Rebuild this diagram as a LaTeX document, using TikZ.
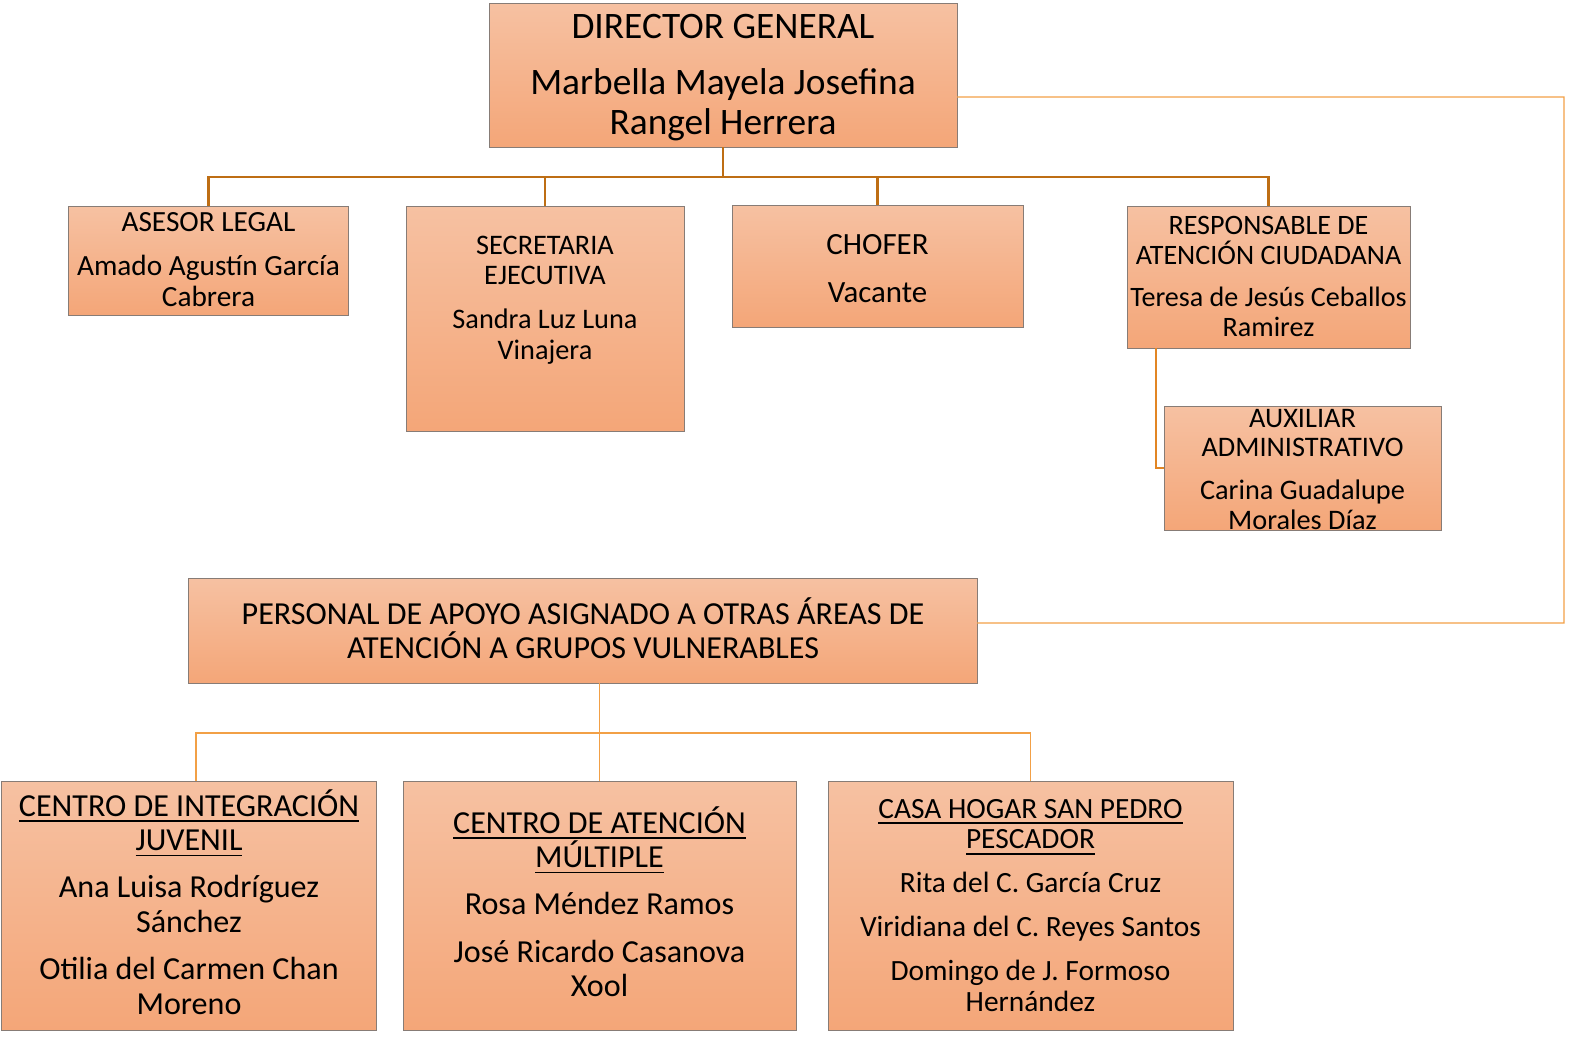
\documentclass[tikz,border=0pt]{standalone}
\usepackage{fontspec}
\setmainfont{Carlito}
\newcommand\myul[1]{\leavevmode\setbox0\hbox{#1}\rlap{\rule[-6pt]{\wd0}{1.8pt}}\box0}
\definecolor{boxtop}{RGB}{246,193,162}
\definecolor{boxbot}{RGB}{244,166,120}
\definecolor{boxline}{RGB}{135,124,118}
\definecolor{lineA}{RGB}{190,110,20}
\definecolor{lineB}{RGB}{226,134,36}
\definecolor{lineC}{RGB}{242,160,70}
\tikzset{
  orgbox/.style 2 args={draw=boxline, line width=1bp, top color=boxtop, bottom color=boxbot,
    shading angle=0, inner sep=0pt, outer sep=0pt, minimum width=#1, minimum height=#2},
  txt/.style={anchor=base, align=center, inner sep=0pt, outer sep=0pt, text width=#1,
    execute at begin node={\spaceskip=\fontdimen2\font\relax\xspaceskip=\fontdimen2\font\relax}},
  fs/.style 2 args={font=\fontsize{#1}{#2}\selectfont},
  linkA/.style={draw=lineA, line width=2.2bp},
  linkB/.style={draw=lineB, line width=2bp},
  linkC/.style={draw=lineC, line width=1.2bp},
}
\begin{document}
\begin{tikzpicture}[x=1bp,y=-1bp]
\useasboundingbox (0,0) rectangle (1576,1038);

% boxes
\node[orgbox={468bp}{144bp}] (dg) at (723,75) {};
\node[orgbox={279bp}{109bp}] (asesor) at (208.5,260.5) {};
\node[orgbox={278bp}{225bp}] (secre) at (545,318.5) {};
\node[orgbox={291bp}{122bp}] (chofer) at (877.5,266) {};
\node[orgbox={283bp}{142bp}] (resp) at (1268.5,277) {};
\node[orgbox={277bp}{124bp}] (aux) at (1302.5,468) {};
\node[orgbox={788bp}{105bp}] (pers) at (583,630.5) {};
\node[orgbox={374bp}{249bp}] (cij) at (189,905.5) {};
\node[orgbox={393bp}{249bp}] (cam) at (599.5,905.5) {};
\node[orgbox={405bp}{249bp}] (casa) at (1030.5,905.5) {};

% texts
\node[txt=460bp, fs={37.5}{40}] (dgT) at (723,38)
  {DIRECTOR GENERAL\\[17pt]Marbella Mayela Josefina\\Rangel Herrera};
\node[txt=275bp, fs={29.4}{31}] (asesorT) at (208.5,231)
  {ASESOR LEGAL\\[14pt]Amado Agustín García\\Cabrera};
\node[txt=274bp, fs={28.4}{31}] (secreT) at (545,254)
  {SECRETARIA\\EJECUTIVA\\[13pt]Sandra Luz Luna\\Vinajera};
\node[txt=287bp, fs={31}{33}] (choferT) at (877.5,254)
  {CHOFER\\[15.5pt]Vacante};
\node[txt=281bp, fs={28.2}{30.5}] (respT) at (1268.5,234)
  {RESPONSABLE DE\\ATENCIÓN CIUDADANA\\[11.5pt]Teresa de Jesús Ceballos\\Ramirez};
\node[txt=273bp, fs={28.4}{30}] (auxT) at (1302.5,427)
  {AUXILIAR\\ADMINISTRATIVO\\[13pt]Carina Guadalupe\\Morales Díaz};
\node[txt=780bp, fs={32.2}{35}] (persT) at (583,624)
  {PERSONAL DE APOYO ASIGNADO A OTRAS ÁREAS DE\\ATENCIÓN A GRUPOS VULNERABLES};
\node[txt=370bp, fs={32.2}{34.5}] (cijT) at (189,816)
  {\myul{CENTRO DE INTEGRACIÓN}\\\myul{JUVENIL}\\[13pt]Ana Luisa Rodríguez\\Sánchez\\[13.5pt]Otilia del Carmen Chan\\Moreno};
\node[txt=389bp, fs={32.2}{34.5}] (camT) at (599.5,833)
  {\myul{CENTRO DE ATENCIÓN}\\\myul{MÚLTIPLE}\\[13pt]Rosa Méndez Ramos\\[13pt]José Ricardo Casanova\\Xool};
\node[txt=401bp, fs={29.5}{31}] (casaT) at (1030.5,818)
  {\myul{CASA HOGAR SAN PEDRO}\\\myul{PESCADOR}\\[13pt]Rita del C. García Cruz\\[13pt]Viridiana del C. Reyes Santos\\[13pt]Domingo de J. Formoso\\Hernández};

% connectors: director tree
\coordinate (bus) at (723,177);
\draw[linkA] (dg.south) -- (bus);
\draw[linkA] (bus) -| (asesor.north);
\draw[linkA] (bus) -| (secre.north);
\draw[linkA] (bus) -| (chofer.north);
\draw[linkA] (bus) -| (resp.north);
\draw[linkB] ([xshift=29bp]resp.south west) |- (aux.west);

% connector director -> personal de apoyo
\coordinate (rc) at (1564,97);
\draw[linkC] ([yshift=-22bp]dg.east) -- (rc) |- ([yshift=7.5bp]pers.east);

% bottom tree
\coordinate (bbus) at (600,733);
\draw[linkC] (cam.north) -- (cam.north |- pers.south);
\draw[linkC] ([xshift=7bp]cij.north) |- (bbus) -| (casa.north);
\end{tikzpicture}
\end{document}
